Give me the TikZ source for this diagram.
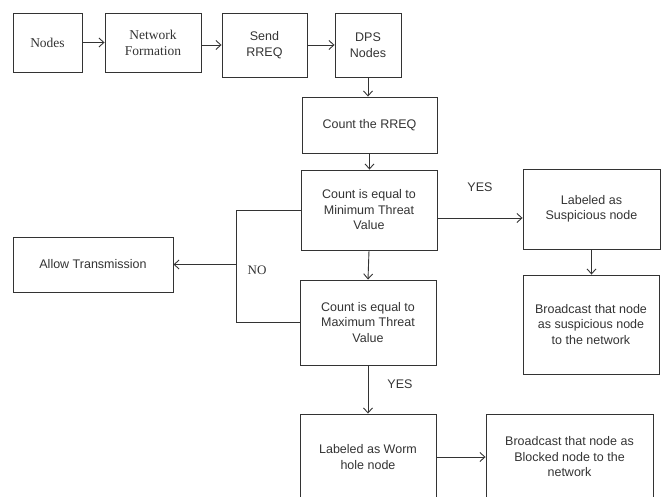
\documentclass[tikz,border=0pt]{standalone}
\usepackage{fontspec}
\setmainfont{Liberation Sans}
\newfontfamily\serifnf{Liberation Serif}
\usetikzlibrary{positioning}
\usetikzlibrary{arrows.meta}
\definecolor{inkgray}{gray}{0.2}
\tikzstyle{box} = [draw, rectangle, align=center, inner sep=2pt, text=inkgray, font=\fontsize{12.5}{15.5}\selectfont]
\tikzstyle{sbox} = [box, font=\serifnf\fontsize{13.5}{16}\selectfont]
\tikzstyle{lbl} = [text=inkgray, font=\fontsize{12.5}{15}\selectfont]
\tikzstyle{arr} = [-{Straight Barb[length=5pt,width=9pt]}]

\begin{document}
\begin{tikzpicture}[x=1pt,y=-1pt,line width=0.9pt,draw=inkgray]
\useasboundingbox (0,0) rectangle (667,497);
\clip (0,0) rectangle (667,497);

% top row
\node[sbox,minimum width=69,minimum height=59] (nodes) at (47.5,42.5) {Nodes};
\node[sbox,minimum width=96,minimum height=59] (netform) at (153,42.5) {Network\\Formation};
\node[box,minimum width=85,minimum height=64] (sendrreq) at (264.5,45) {Send\\RREQ};
\node[box,minimum width=66,minimum height=64] (dps) at (368,45) {DPS\\Nodes};

% middle column
\node[box,minimum width=135,minimum height=56] (count) at (369.5,125) {Count the RREQ};
\node[box,minimum width=136,minimum height=80] (minval) at (369,210) {Count is equal to\\Minimum Threat\\Value};
\node[box,minimum width=136,minimum height=85] (maxval) at (368,322.5) {Count is equal to\\Maximum Threat\\Value};
\node[box,minimum width=136,minimum height=86] (worm) at (368,457) {Labeled as Worm\\hole node};

% left and right
\node[box,minimum width=160,minimum height=55] (allow) at (93,264.5) {Allow Transmission};
\node[box,minimum width=137,minimum height=80] (susp) at (591.5,209) {Labeled as\\Suspicious node};
\node[box,minimum width=136,minimum height=99] (bsusp) at (591,324.5) {Broadcast that node\\as suspicious node\\to the network};
\node[box,minimum width=167,minimum height=86] (blocked) at (569.5,457) {Broadcast that node as\\Blocked node to the\\network};

% labels
\node[lbl] (yes1) at (480,187) {YES};
\node[lbl,font=\serifnf\fontsize{13}{15}\selectfont] (no) at (257,270) {NO};
\node[lbl] (yes2) at (400,384) {YES};

% connectors
\draw[arr] (nodes.east) -- (netform.west);
\draw[arr] (netform.east |- sendrreq.west) -- (sendrreq.west);
\draw[arr] (sendrreq.east) -- (dps.west);
\draw[arr] (dps.south) -- (dps.south |- count.north);
\draw[arr] (count.south) -- (count.south |- minval.north);
\draw[arr] (minval.south) -- (maxval.north);
\draw[arr] ([yshift=-8pt]minval.east) -- ([yshift=-8pt]minval.east -| susp.west);
\draw (minval.west) -- ++(-64,0) coordinate (nobend) |- (maxval.west);
\draw[arr] (nobend |- allow.east) -- (allow.east);
\draw[arr] (susp.south) -- (susp.south |- bsusp.north);
\draw[arr] (maxval.south) -- (worm.north);
\draw[arr] (worm.east) -- (blocked.west);

\end{tikzpicture}
\end{document}
